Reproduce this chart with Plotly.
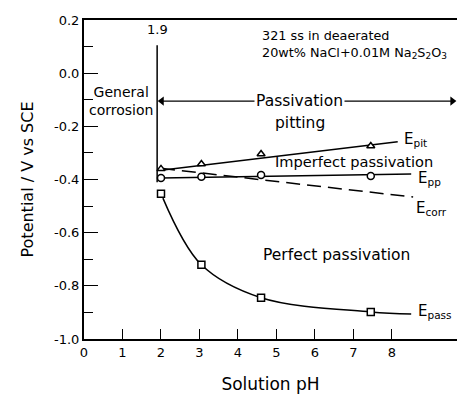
import plotly.graph_objects as go

# ---- data ----
ph_points = [2.0, 3.05, 4.6, 7.45]
e_pit = [-0.36, -0.342, -0.304, -0.274]
e_pp = [-0.394, -0.39, -0.383, -0.387]
e_pass = [-0.454, -0.721, -0.845, -0.898]

e_pit_line_x = [2.0, 8.15]
e_pit_line_y = [-0.365, -0.258]
e_pp_line_x = [2.0, 8.5]
e_pp_line_y = [-0.394, -0.379]
e_corr_line_x = [2.0, 8.55]
e_corr_line_y = [-0.358, -0.466]
e_pass_curve_x = [2.05, 3.05, 4.6, 7.45, 8.5]
e_pass_curve_y = [-0.47, -0.721, -0.845, -0.898, -0.906]

ph_boundary = 1.9
boundary_y = [0.105, -0.41]
arrow_y = -0.105
arrow_end_x = 9.62

x_ticks = [0, 1, 2, 3, 4, 5, 6, 7, 8]
y_ticks = [0.2, 0.0, -0.2, -0.4, -0.6, -0.8, -1.0]
y_ticklabels = ["0.2", "0.0", "-0.2", "-0.4", "-0.6", "-0.8", "-1.0"]

FONT = "DejaVu Sans"
line = dict(color="black", width=1.5)

fig = go.Figure()

# lines
fig.add_trace(go.Scatter(x=e_pit_line_x, y=e_pit_line_y, mode="lines", line=line))
fig.add_trace(go.Scatter(x=e_pp_line_x, y=e_pp_line_y, mode="lines", line=line))
fig.add_trace(go.Scatter(x=e_corr_line_x, y=e_corr_line_y, mode="lines",
                         line=dict(color="black", width=1.5, dash="14px,7px")))
fig.add_trace(go.Scatter(x=e_pass_curve_x, y=e_pass_curve_y, mode="lines",
                         line=dict(color="black", width=1.5, shape="spline", smoothing=1.0)))
fig.add_trace(go.Scatter(x=[ph_boundary, ph_boundary], y=boundary_y, mode="lines", line=line))

# double-headed arrow (line + arrowhead markers)
fig.add_trace(go.Scatter(x=[ph_boundary + 0.05, arrow_end_x], y=[arrow_y, arrow_y], mode="lines",
                         line=dict(color="black", width=1.3)))
fig.add_trace(go.Scatter(x=[ph_boundary + 0.12, arrow_end_x - 0.05], y=[arrow_y, arrow_y],
                         mode="markers",
                         marker=dict(symbol=["triangle-left", "triangle-right"], size=8,
                                     color="black", line=dict(width=0))))

# markers
mk = dict(color="white", size=7, line=dict(color="black", width=1.5))
fig.add_trace(go.Scatter(x=ph_points, y=e_pit, mode="markers",
                         marker=dict(symbol="triangle-up", **mk)))
fig.add_trace(go.Scatter(x=ph_points, y=e_pp, mode="markers",
                         marker=dict(symbol="circle", **mk)))
fig.add_trace(go.Scatter(x=ph_points, y=e_pass, mode="markers",
                         marker=dict(symbol="square", **mk)))


def tf(size):
    return dict(family=FONT, size=size, color="black")


ann = []
ann.append(dict(x=5.61, y=arrow_y, text="Passivation", showarrow=False, bgcolor="white",
                font=tf(15.5), xref="x", yref="y", borderpad=1))
ann.append(dict(x=5.6, y=-0.186, text="pitting", showarrow=False, font=tf(15.5),
                xref="x", yref="y"))
ann.append(dict(x=0.95, y=-0.105, text="General<br>corrosion", showarrow=False, font=tf(14),
                xref="x", yref="y", align="center"))
ann.append(dict(x=ph_boundary, y=0.13, text="1.9", showarrow=False, font=tf(13),
                xref="x", yref="y", yanchor="bottom"))
ann.append(dict(x=4.6, y=0.108,
                text="321 ss in deaerated<br>20wt% NaCl+0.01M Na<sub>2</sub>S<sub>2</sub>O<sub>3</sub>",
                showarrow=False, font=tf(12.8), xref="x", yref="y", xanchor="left", align="left",
                borderpad=0))
ann.append(dict(x=4.92, y=-0.331, text="Imperfect passivation", showarrow=False, font=tf(14.6),
                xref="x", yref="y", xanchor="left"))
ann.append(dict(x=4.6, y=-0.684, text="Perfect passivation", showarrow=False, font=tf(15.5),
                xref="x", yref="y", xanchor="left"))
ann.append(dict(x=8.27, y=-0.25, text="E<sub>pit</sub>", showarrow=False, font=tf(15),
                xref="x", yref="y", xanchor="left"))
ann.append(dict(x=8.62, y=-0.398, text="E<sub>pp</sub>", showarrow=False, font=tf(15),
                xref="x", yref="y", xanchor="left"))
ann.append(dict(x=8.58, y=-0.508, text="E<sub>corr</sub>", showarrow=False, font=tf(15),
                xref="x", yref="y", xanchor="left"))
ann.append(dict(x=8.62, y=-0.897, text="E<sub>pass</sub>", showarrow=False, font=tf(15),
                xref="x", yref="y", xanchor="left"))

fig.update_layout(
    width=457, height=398,
    margin=dict(l=84, r=0, t=20, b=59),
    plot_bgcolor="white", paper_bgcolor="white",
    showlegend=False,
    annotations=ann,
    font=dict(family=FONT, size=13, color="black"),
    xaxis=dict(range=[0, 9.69], tickvals=x_ticks, ticks="inside", ticklen=10, tickwidth=1.3,
               tickcolor="black", showline=True, linecolor="black", linewidth=2, mirror=True,
               showgrid=False, zeroline=False,
               title=dict(text="Solution pH", font=tf(17), standoff=20),
               tickfont=tf(13)),
    yaxis=dict(range=[-1.0, 0.2], tickvals=y_ticks, ticktext=y_ticklabels, ticks="inside",
               ticklen=14, tickwidth=1.3, tickcolor="black", showline=True, linecolor="black",
               linewidth=2, showgrid=False, zeroline=False,
               minor=dict(tickvals=[0.1, -0.1, -0.3, -0.5, -0.7, -0.9], ticks="inside",
                          ticklen=9, tickwidth=1.3, tickcolor="black"),
               title=dict(text="Potential / V vs SCE", font=tf(16), standoff=16),
               tickfont=tf(13)),
)

fig.write_html("out.html")
